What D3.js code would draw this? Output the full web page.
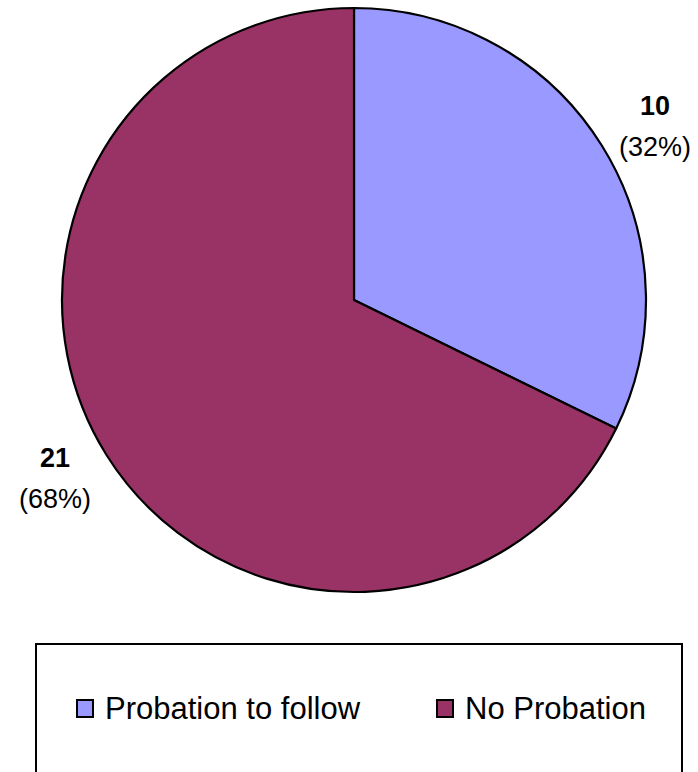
<!DOCTYPE html>
<html>
<head>
<meta charset="utf-8">
<script src="https://cdn.jsdelivr.net/npm/d3@7"></script>
<style>
  body { margin: 0; background: #fff; }
  svg { display: block; }
</style>
</head>
<body>
<div id="chart"></div>
<script>
// data
const categories = ["Probation to follow", "No Probation"];
const values = [10, 21];
const percentLabels = ["(32%)", "(68%)"];
const colors = ["#9999FF", "#993366"];

const width = 698;
const height = 772;
const cx = 354, cy = 300, radius = 292;

const svg = d3.select("#chart").append("svg")
    .attr("width", width)
    .attr("height", height);

const data = categories.map((c, i) => ({name: c, value: values[i], pct: percentLabels[i], color: colors[i]}));

const pie = d3.pie()
    .value(d => d.value)
    .sort(null);

const arc = d3.arc()
    .innerRadius(0)
    .outerRadius(radius);

const g = svg.append("g")
    .attr("transform", `translate(${cx},${cy})`);

g.selectAll("path")
    .data(pie(data))
    .enter().append("path")
    .attr("d", arc)
    .attr("fill", d => d.data.color)
    .attr("stroke", "#000")
    .attr("stroke-width", 2.2)
    .attr("stroke-linejoin", "round");

// data labels, placed outside the pie
const labelPos = [{x: 655, y: 115}, {x: 55, y: 467}];
const labels = svg.selectAll(".lbl")
    .data(data)
    .enter().append("g")
    .attr("class", "lbl")
    .attr("transform", (d, i) => `translate(${labelPos[i].x},${labelPos[i].y})`);

labels.append("text")
    .attr("text-anchor", "middle")
    .attr("font-family", "Liberation Sans, Arial, sans-serif")
    .attr("font-weight", "bold")
    .attr("font-size", 27)
    .attr("fill", "#000")
    .text(d => d.value);

labels.append("text")
    .attr("text-anchor", "middle")
    .attr("y", 41)
    .attr("font-family", "Liberation Sans, Arial, sans-serif")
    .attr("font-size", 27)
    .attr("fill", "#000")
    .text(d => d.pct);

// legend
const legend = svg.append("g");
legend.append("rect")
    .attr("x", 36)
    .attr("y", 644)
    .attr("width", 646)
    .attr("height", 140)
    .attr("fill", "#fff")
    .attr("stroke", "#000")
    .attr("stroke-width", 2);

const legendX = [77, 437];
const items = legend.selectAll(".item")
    .data(data)
    .enter().append("g")
    .attr("class", "item")
    .attr("transform", (d, i) => `translate(${legendX[i]},700)`);

items.append("rect")
    .attr("width", 16)
    .attr("height", 17)
    .attr("fill", d => d.color)
    .attr("stroke", "#000")
    .attr("stroke-width", 2);

items.append("text")
    .attr("x", 28)
    .attr("y", 19)
    .attr("font-family", "Liberation Sans, Arial, sans-serif")
    .attr("font-size", 31)
    .attr("fill", "#000")
    .text(d => d.name);
</script>
</body>
</html>
